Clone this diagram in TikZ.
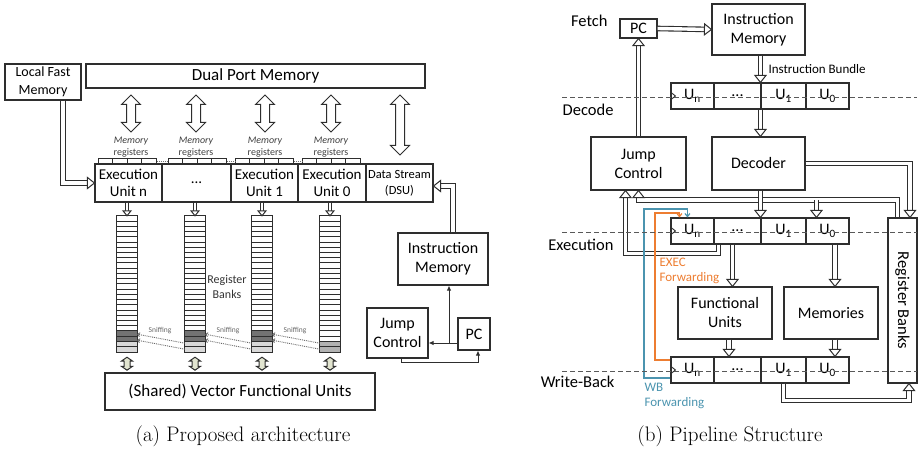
\documentclass[tikz,border=0pt]{standalone}
\usepackage{fontspec}
\usepackage{tikz}
\usetikzlibrary{arrows.meta, shapes.arrows, calc, positioning, decorations.markings}
\newfontfamily\carl{Carlito}
\newcommand{\fsz}[2]{\fontsize{#1}{#2}\selectfont}
\definecolor{ink}{gray}{0.18}
\definecolor{execorange}{RGB}{237,125,49}
\definecolor{wbblue}{RGB}{75,148,175}
\definecolor{portfill}{RGB}{226,229,208}
% hollow head, drawn at the end of a wide connector
\newcommand{\hollowhead}[2]{\draw[draw=ink, fill=white, line width=1pt, line join=miter] (-#1,-#2) -- (0pt,0pt) -- (-#1,#2) -- cycle;}
\tikzset{x=1pt, y=-1pt, % one unit per pixel, y downwards
box/.style={ % every plain block
draw=ink, line width=1.1pt, fill=white,
inner sep=0pt, align=center, font=\carl\fsz{16}{19}},
ucell/.style={box, minimum height=26}, % one slot of an instruction bundle
dbline/.style={draw=white, line width=3.4pt, % wide hollow line
preaction={draw=ink, line width=5.6pt}},
dbl/.style={dbline, shorten >=6pt, % wide hollow connector
postaction={decorate, decoration={markings, mark=at position 1 with {\hollowhead{7pt}{5.5pt}}}}},
dbls/.style={draw=white, line width=2.4pt, preaction={draw=ink, line width=4.4pt}, shorten >=4.5pt,
postaction={decorate, decoration={markings, mark=at position 1 with {\hollowhead{5pt}{4pt}}}}},
bidir/.style={ % two-way block arrow
draw=ink, line width=1pt, fill=white, double arrow, rotate=90,
inner sep=4pt, double arrow head extend=5pt},
thinarr/.style={draw=ink, line width=1pt, -{Latex[length=5pt, width=4.5pt]}},
sniff/.style={densely dotted, draw=black!60, line width=0.9pt,
-{Straight Barb[length=2pt, width=4pt]}},
fwd/.style={line width=1.2pt, -{Straight Barb[length=3pt, width=5pt]}},
stage/.style={dashed, dash pattern=on 5pt off 3pt, draw=black!65, line width=1pt},
clk/.style={draw=ink, line width=0.9pt}}

\begin{document}
\begin{tikzpicture}
\useasboundingbox (0,0) rectangle (918,449);

% ---------- (a) proposed architecture ----------
\node[box, minimum width=339, minimum height=24, font=\carl\fsz{17}{20}] (dpm) at (255.5,76) {Dual Port Memory};
\node[box, minimum width=76, minimum height=36, font=\carl\fsz{14}{18}] (lfm) at (43,82) {Local Fast\\Memory};

\node[box, minimum width=67, minimum height=38, font=\carl\fsz{15}{17}] (eun) at (128.5,183) {Execution\\Unit n};
\node[box, minimum width=69, minimum height=38, font=\carl\fsz{15}{17}] (eud) at (196.5,183) {...};
\node[box, minimum width=67, minimum height=38, font=\carl\fsz{15}{17}] (eu1) at (264.5,183) {Execution\\Unit 1};
\node[box, minimum width=68, minimum height=38, font=\carl\fsz{15}{17}] (eu0) at (332,183) {Execution\\Unit 0};
\node[box, minimum width=67, minimum height=38, font=\carl\fsz{12.5}{16}] (dsu) at (399.5,183) {Data Stream\\(DSU)};

% memory registers on top of the units
\foreach \g/\x in {1/98, 2/168, 3/235, 4/302} {
  \node[draw=ink, line width=0.9pt, minimum width=58, minimum height=6, inner sep=0pt, anchor=north west] (mreg\g) at (\x,158) {};
  \foreach \c in {1,2,3}
    \draw[draw=ink, line width=0.8pt] ($(mreg\g.north west)+(\c*14.5,0)$) -- ++(0,6);
}
\draw[densely dotted, draw=black!55, line width=1pt] (mreg1.east) -- (mreg2.west);
\draw[densely dotted, draw=black!55, line width=1pt] (mreg2.east) -- (mreg3.west);
\draw[densely dotted, draw=black!55, line width=1pt] (mreg3.east) -- (mreg4.west);

\foreach \i/\x in {1/131, 2/196, 3/265, 4/331} {
  \node[font=\carl\fsz{10}{12}, text=black!75, align=center] (mlab\i) at (\x,147) {\itshape Memory\\registers};
  \node[bidir, minimum height=37] (port\i) at (\x,113.5) {};
}
\node[bidir, minimum height=60] (port5) at (400,125) {};

% register banks
\foreach \b/\x in {1/127, 2/195, 3/262, 4/330}
  \node[minimum width=20, minimum height=136, inner sep=0pt] (bk\b) at (\x,284) {};
\foreach \b in {1,2,3} {
  \fill[black!55] ($(bk\b.north west)+(0,115.1)$) rectangle ($(bk\b.north east)+(0,125.5)$);
  \fill[black!15] ($(bk\b.north west)+(0,125.5)$) rectangle (bk\b.south east);
}
\fill[black!30] ($(bk4.north west)+(0,125.5)$) rectangle (bk4.south east);
\foreach \b in {1,2,3,4} {
  \foreach \r in {1,...,25}
    \draw[draw=ink, line width=0.8pt] ($(bk\b.north west)+(0,\r*5.2308)$) -- ++(20,0);
  \draw[line width=1pt, draw=ink] (bk\b.north west) rectangle (bk\b.south east);
}
\node[font=\carl\fsz{12}{15}, text=black!80, align=center] (rblab) at (227,287) {Register\\Banks};

% sniffing between neighbouring banks
\foreach \a/\b/\x in {1/2/160, 2/3/228, 3/4/295} {
  \draw[sniff] ($(bk\b.south west)+(0,-9)$) -- ($(bk\a.south east)+(0,-18)$);
  \draw[sniff] ($(bk\b.south west)+(0,-3)$) -- ($(bk\a.south east)+(0,-12)$);
  \node[font=\carl\fsz{7.5}{9}, text=black!60] (snf\a) at (\x,331) {Sniffing};
}

\node[box, minimum width=270, minimum height=37, font=\carl\fsz{17}{20}] (svfu) at (240,391.5) {(Shared) Vector Functional Units};
\foreach \b in {1,2,3,4}
  \node[bidir, fill=portfill, inner sep=2.5pt, double arrow head extend=2.5pt, double arrow tip angle=110, minimum height=13] (vport\b) at ($(bk\b.south)+(0,11.5)$) {};

\draw[dbls] (bk1.north |- eun.south) -- (bk1.north);
\draw[dbls] (bk2.north |- eud.south) -- (bk2.north);
\draw[dbls] (bk3.north |- eu1.south) -- (bk3.north);
\draw[dbls] (bk4.north |- eu0.south) -- (bk4.north);

\coordinate (lfmout) at ($(lfm.south)+(20,0)$);
\draw[dbl] (lfmout) |- (eun.west);

\node[box, minimum width=90, minimum height=52] (ima) at (443,259) {Instruction\\Memory};
\node[box, minimum width=61, minimum height=50] (jca) at (397.5,333) {Jump\\Control};
\node[box, minimum width=32, minimum height=32] (pca) at (474,334) {PC};

\coordinate (imaout) at ($(ima.north)+(10,0)$);
\draw[dbl] (imaout) |- ($(dsu.east)+(0,3)$);
\coordinate (jn) at (449,343);
\draw[thinarr] (jn) -- (ima.south -| jn);
\draw[thinarr] (pca.west |- jn) -- (jca.east |- jn);
\draw[thinarr] ($(jca.south)+(3.5,0)$) -- ++(0,4) -| ($(pca.south)+(4,0)$);

% ---------- (b) pipeline structure ----------
\node[box, minimum width=37, minimum height=19] (pcb) at (638.5,28.5) {PC};
\node[box, minimum width=93, minimum height=51] (imb) at (758.5,29.5) {Instruction\\Memory};
\node[box, minimum width=95, minimum height=53] (jcb) at (638.5,163.5) {Jump\\Control};
\node[box, minimum width=93, minimum height=53] (dec) at (758.5,163.5) {Decoder};
\node[box, minimum width=94, minimum height=52] (fu) at (725,313) {Functional\\Units};
\node[box, minimum width=94, minimum height=52] (mem) at (831,313) {Memories};
\node[box, minimum width=29, minimum height=165] (rb) at (902.5,300.5) {};
\node[rotate=-90, font=\carl\fsz{16.5}{19}] (rbtext) at (rb.center) {Register Banks};

% the three bundle registers
\foreach \s/\y in {dcd/96, exe/231, wb/370} {
  \node[ucell, minimum width=43] (\s N) at (692.5,\y) {U\textsubscript{n}};
  \node[ucell, minimum width=47] (\s D) at (737.5,\y) {...};
  \node[ucell, minimum width=45] (\s 1) at (783.5,\y) {U\textsubscript{1}};
  \node[ucell, minimum width=43] (\s 0) at (827.5,\y) {U\textsubscript{0}};
  \draw[clk] ($(\s N.west)+(0,-4)$) -- ++(5,4) -- ++(-5,4);
}

\node[font=\carl\fsz{16.5}{19}, anchor=east] (fetch) at (611,21) {Fetch};
\node[font=\carl\fsz{16.5}{19}, anchor=east] (decode) at (617,110) {Decode};
\node[font=\carl\fsz{16.5}{19}, anchor=east] (execute) at (617,245) {Execution};
\node[font=\carl\fsz{16.5}{19}, anchor=east] (writeback) at (618,382) {Write-Back};

\node[font=\carl\fsz{13}{15}, anchor=west] (bundle) at (765,69) {Instruction Bundle};

\draw[dbl] (pcb.east) -- (imb.west);
\draw[dbl] (jcb.north) -- (pcb.south);
\draw[dbl] (imb.south -| dcd1.north west) -- (dcd1.north west);
\draw[dbl] (dcd1.south west) -- (dcd1.south west |- dec.north);

\coordinate (dsp) at (761,200);
\coordinate (rbin) at ($(rb.north west)+(10,0)$);
\coordinate (u0in) at ($(exe0.north west)+(11,0)$);
\draw[dbline] (dsp) -| (rbin);
\draw[dbl] (u0in |- dsp) -- (u0in);
\draw[dbl] (dsp) -| (jcb.south);
\draw[dbl] (dec.south -| exe1.north west) -- (exe1.north west);
\draw[dbl] (dec.east) -| ($(rb.north)+(7.5,0)$);

\coordinate (jcin) at ($(jcb.south)+(-13,0)$);
\coordinate (fuin) at ($(exeD.south)+(-5,0)$);
\coordinate (memin) at ($(mem.north)+(4,0)$);
\coordinate (fuout) at ($(fu.south)+(4,0)$);
\coordinate (memout) at ($(mem.south)+(4,0)$);
\draw[dbl] ($(exeD.south west)+(5,0)$) -- ++(0,9) -| (jcin);
\draw[dbl] (fuin) -- (fuin |- fu.north);
\draw[dbl] (memin |- exe0.south) -- (memin);
\draw[dbl] (fuout) -- (fuout |- wbD.north);
\draw[dbl] (memout) -- (memout |- wb0.north);
\draw[dbl] (wb1.south) -- ++(0,17) -| ($(rb.south)+(6.5,0)$);

% forwarding paths
\draw[fwd, execorange] ($(wbN.west)+(0,-10)$) -| (655,213) -| ($(exeN.north west)+(9,0)$);
\draw[fwd, wbblue] ($(wbN.west)+(0,8)$) -| (644,209) -| ($(exeN.north west)+(17,0)$);
\node[font=\carl\fsz{13}{15}, text=execorange, align=left, anchor=west] (exfwd) at (656,270.5) {EXEC\\Forwarding};
\node[font=\carl\fsz{13}{15}, text=wbblue, align=left, anchor=west] (wbfwd) at (641,395.5) {WB\\Forwarding};

% stage borders
\draw[stage] (562,98) coordinate (s1) -- (917,98) coordinate (e1);
\draw[stage] (562,232) coordinate (s2) -- (917,232) coordinate (e2);
\draw[stage] (562,371) coordinate (s3) -- (917,371) coordinate (e3);

% captions
\node[font=\fsz{21}{25}] (capa) at (243,436) {(a) Proposed architecture};
\node[font=\fsz{21}{25}] (capb) at (730,436) {(b) Pipeline Structure};
\end{tikzpicture}
\end{document}
